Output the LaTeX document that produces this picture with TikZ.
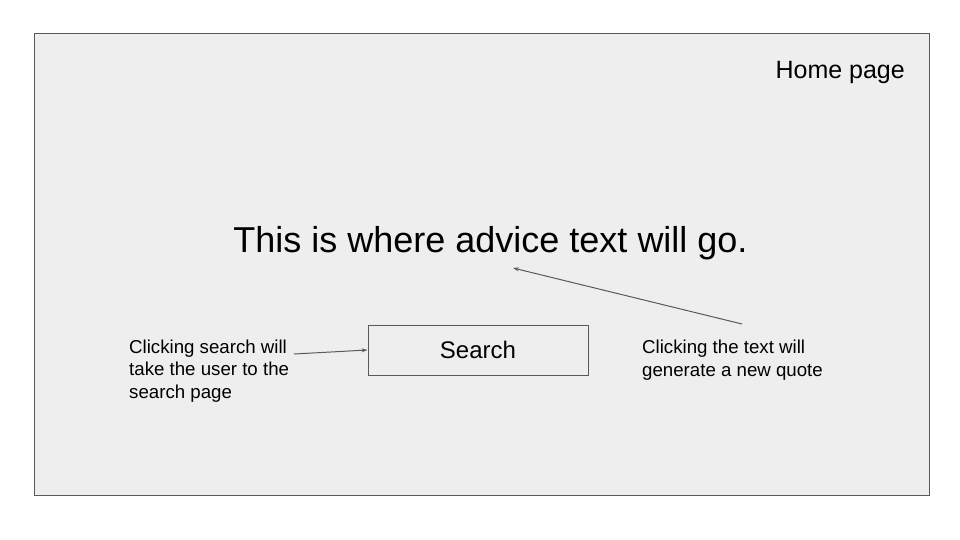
\documentclass[tikz,border=0pt]{standalone}
\usepackage{fontspec}
\setmainfont{Liberation Sans}
\usetikzlibrary{arrows.meta}
\definecolor{slidebg}{HTML}{EEEEEE}
\definecolor{edgegray}{HTML}{595959}
\tikzset{
  frame/.style={draw=edgegray, fill=slidebg, line width=1pt},
  btn/.style={draw=edgegray, line width=1pt, minimum width=220pt, minimum height=50pt, inner sep=0pt, font=\fontsize{24}{28}\selectfont},
  note/.style={inner sep=0pt, align=left, font=\fontsize{18.67}{22.4}\selectfont},
  pointer/.style={draw=edgegray, line width=1pt, -{Stealth[length=6pt,width=4pt]}}
}
\begin{document}
\begin{tikzpicture}[x=1pt,y=-1pt]
\useasboundingbox (0,0) rectangle (960,540);
\node[frame, minimum width=895pt, minimum height=462pt, anchor=north west, inner sep=0pt] (slide) at (34,33) {};
\node[anchor=base east, inner sep=0pt, font=\fontsize{25}{30}\selectfont] (title) at (905,79) {Home page};
\node[anchor=base, inner sep=0pt, font=\fontsize{36}{43}\selectfont] (advice) at (490.5,252.5) {This is where advice text will go.};
\node[btn] (search) at (478,350) {Search};
\node[note, anchor=north west] (leftnote) at (129,339.5) {Clicking search will\\take the user to the\\search page};
\node[note, anchor=north west] (rightnote) at (642,340) {Clicking the text will\\generate a new quote};
\coordinate (lstart) at (294,354);
\coordinate (rstart) at (742,324);
\coordinate (rend) at (513,268);
\draw[pointer] (lstart) -- (search.west);
\draw[pointer] (rstart) -- (rend);
\end{tikzpicture}
\end{document}
